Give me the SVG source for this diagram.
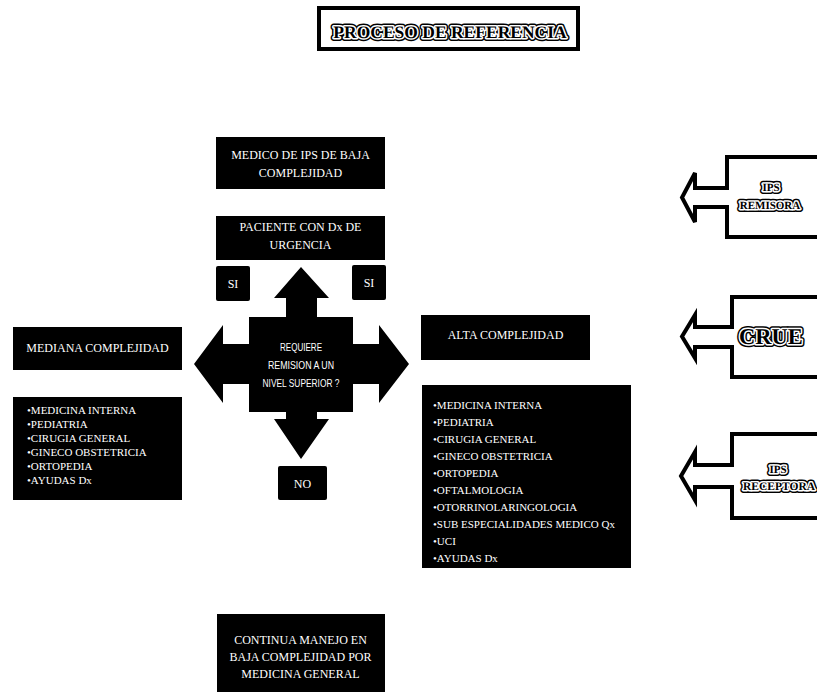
<svg xmlns="http://www.w3.org/2000/svg" width="817" height="696" viewBox="0 0 817 696">
  <style>
    .box { fill: #000; }
    .wt { fill: #fff; font-family: "Liberation Serif", "Times New Roman", serif; font-size: 12px; text-anchor: middle; }
    .list { fill: #fff; font-family: "Liberation Serif", "Times New Roman", serif; font-size: 11px; }
    .cond { fill: #fff; font-family: "Liberation Sans Narrow", "Liberation Sans", Arial, sans-serif; font-size: 11.5px; text-anchor: middle; }
    .frame { fill: #fff; stroke: #000; stroke-width: 4; stroke-linejoin: miter; }
    .halo-out { font-family: "Liberation Serif", "Times New Roman", serif; font-weight: bold; text-anchor: middle; fill: #000; stroke: #000; stroke-width: 6; stroke-linejoin: round; text-rendering: geometricPrecision; }
    .halo-in { font-family: "Liberation Serif", "Times New Roman", serif; font-weight: bold; text-anchor: middle; fill: #000; stroke: #fff; stroke-width: 3; stroke-linejoin: round; paint-order: stroke; text-rendering: geometricPrecision; }
  </style>

  <rect width="817" height="696" fill="#fff"/>

  <!-- Title -->
  <g id="title">
    <rect x="319" y="8" width="259" height="41" class="frame"/>
    <text x="450" y="38" class="halo-out" font-size="17.5">PROCESO DE REFERENCIA</text>
    <text x="450" y="38" class="halo-in" font-size="17.5">PROCESO DE REFERENCIA</text>
  </g>

  <g id="medico">
    <rect x="216" y="137" width="169" height="52" class="box"/>
    <text x="300.5" y="159" class="wt">MEDICO  DE IPS DE BAJA</text>
    <text x="300.5" y="177" class="wt">COMPLEJIDAD</text>
  </g>

  <g id="paciente">
    <rect x="216" y="216" width="169" height="44" class="box"/>
    <text x="300.5" y="231" class="wt">PACIENTE CON Dx DE</text>
    <text x="300.5" y="249" class="wt">URGENCIA</text>
  </g>

  <g id="si-left">
    <rect x="216" y="266" width="34" height="35" rx="2" class="box"/>
    <text x="233" y="288" class="wt" font-size="11">SI</text>
  </g>

  <g id="si-right">
    <rect x="352" y="265" width="34" height="35" rx="2" class="box"/>
    <text x="369" y="287" class="wt" font-size="11">SI</text>
  </g>

  <!-- Four-way decision arrow -->
  <g id="decision">
    <path class="box" d="M301,267 L329,298 L317,298 L317,317 L353,317 L353,344 L379,344 L379,325 L409,364 L379,403 L379,384 L353,384 L353,412 L317,412 L317,419 L329,419 L301,459 L274,419 L286,419 L286,412 L249,412 L249,384 L223,384 L223,403 L194,364 L223,325 L223,344 L249,344 L249,317 L286,317 L286,298 L274,298 Z"/>
    <text x="301" y="351" class="cond" textLength="42" lengthAdjust="spacingAndGlyphs">REQUIERE</text>
    <text x="301" y="369" class="cond" textLength="66" lengthAdjust="spacingAndGlyphs">REMISION A UN</text>
    <text x="301" y="387" class="cond" textLength="77" lengthAdjust="spacingAndGlyphs">NIVEL SUPERIOR ?</text>
  </g>

  <g id="no">
    <rect x="278" y="466" width="49" height="34" rx="2" class="box"/>
    <text x="302.5" y="488" class="wt" font-size="11">NO</text>
  </g>

  <g id="mediana">
    <rect x="13" y="327" width="169" height="43" class="box"/>
    <text x="97.5" y="352" class="wt" font-size="11.5">MEDIANA COMPLEJIDAD</text>
  </g>

  <g id="mediana-servicios">
    <rect x="13" y="397" width="169" height="103" class="box"/>
    <text class="list" x="27">
      <tspan x="27" y="414">•MEDICINA INTERNA</tspan>
      <tspan x="27" y="428">•PEDIATRIA</tspan>
      <tspan x="27" y="442">•CIRUGIA GENERAL</tspan>
      <tspan x="27" y="456">•GINECO OBSTETRICIA</tspan>
      <tspan x="27" y="470">•ORTOPEDIA</tspan>
      <tspan x="27" y="484">•AYUDAS Dx</tspan>
    </text>
  </g>

  <g id="alta">
    <rect x="421" y="315" width="169" height="45" class="box"/>
    <text x="505.5" y="339" class="wt">ALTA COMPLEJIDAD</text>
  </g>

  <g id="alta-servicios">
    <rect x="422" y="385" width="209" height="183" class="box"/>
    <text class="list" x="433" font-size="11.5">
      <tspan x="433" y="409">•MEDICINA INTERNA</tspan>
      <tspan x="433" y="426">•PEDIATRIA</tspan>
      <tspan x="433" y="443">•CIRUGIA GENERAL</tspan>
      <tspan x="433" y="460">•GINECO OBSTETRICIA</tspan>
      <tspan x="433" y="477">•ORTOPEDIA</tspan>
      <tspan x="433" y="494">•OFTALMOLOGIA</tspan>
      <tspan x="433" y="511">•OTORRINOLARINGOLOGIA</tspan>
      <tspan x="433" y="528">•SUB ESPECIALIDADES MEDICO Qx</tspan>
      <tspan x="433" y="545">•UCI</tspan>
      <tspan x="433" y="562">•AYUDAS Dx</tspan>
    </text>
  </g>

  <g id="continua">
    <rect x="217" y="614" width="168" height="78" class="box"/>
    <text x="300.5" y="644" class="wt" font-size="11.3">CONTINUA MANEJO EN</text>
    <text x="300.5" y="661" class="wt" font-size="11.3">BAJA COMPLEJIDAD POR</text>
    <text x="300.5" y="678" class="wt" font-size="11.3">MEDICINA GENERAL</text>
  </g>

  <!-- Right-hand callouts pointing left -->
  <g id="ips-remisora">
    <path class="frame" d="M727,157 L822,157 L822,237 L727,237 L727,207 L695,207 L695,222 L682,197.5 L695,173 L695,188 L727,188 Z"/>
    <text x="771" y="191" class="halo-out" font-size="11">IPS</text>
    <text x="771" y="191" class="halo-in" font-size="11">IPS</text>
    <text x="770" y="209" class="halo-out" font-size="11">REMISORA</text>
    <text x="770" y="209" class="halo-in" font-size="11">REMISORA</text>
  </g>

  <g id="crue">
    <path class="frame" d="M732,297 L822,297 L822,377 L732,377 L732,347 L695,347 L695,358 L682,336.5 L695,315 L695,327 L732,327 Z"/>
    <text x="771" y="344" class="halo-out" font-size="22.5">CRUE</text>
    <text x="771" y="344" class="halo-in" font-size="22.5">CRUE</text>
  </g>

  <g id="ips-receptora">
    <path class="frame" d="M732,434 L822,434 L822,518 L732,518 L732,487 L695,487 L695,500 L681,476 L695,452 L695,465 L732,465 Z"/>
    <text x="778" y="473" class="halo-out" font-size="11">IPS</text>
    <text x="778" y="473" class="halo-in" font-size="11">IPS</text>
    <text x="779" y="490" class="halo-out" font-size="11.5">RECEPTORA</text>
    <text x="779" y="490" class="halo-in" font-size="11.5">RECEPTORA</text>
  </g>
</svg>
